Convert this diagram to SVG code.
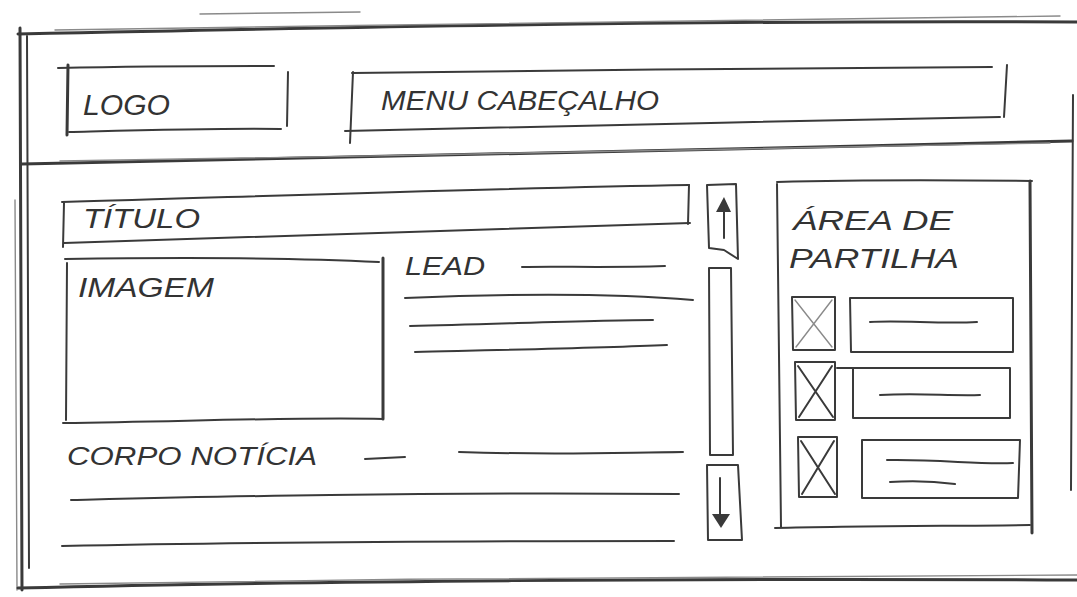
<svg xmlns="http://www.w3.org/2000/svg" width="1077" height="597" viewBox="0 0 1077 597">
<style>
.s{fill:none;stroke:#3a3a3a;stroke-width:2;stroke-linecap:round;stroke-linejoin:round}
.h{stroke-width:3}
.l{stroke:#8a8a8a;stroke-width:1.4}
.t{font-family:"Liberation Sans",Arial,sans-serif;fill:#333;font-style:italic}
</style>
<rect width="1077" height="597" fill="#fff"/>
<g id="frame" class="s">
<path class="h" d="M18 34 C300 28 700 20 1077 22"/>
<path class="l" d="M55 30 C400 25 800 18 1060 16"/>
<path class="l" d="M200 14 L360 12"/>
<path class="h" d="M20 28 L22 590"/>
<path d="M27 36 L29 568"/>
<path class="l" d="M15 200 L17 590"/>
<path class="h" d="M18 588 C300 581 700 578 1077 580"/>
<path class="l" d="M60 584 C400 578 800 576 1077 575"/>
<path d="M1073 95 L1071 490"/>
</g>
<g id="header-divider" class="s">
<path class="h" d="M22 164 C300 160 700 150 1072 141"/>
<path class="l" d="M60 161 C400 156 800 148 1050 143"/>
</g>
<g id="logo">
<g class="s">
<path d="M58 68 C150 66 220 66 274 66"/>
<path class="h" d="M68 65 L67 135"/>
<path d="M288 72 L287 126"/>
<path d="M69 132 C150 130 220 128 281 129"/>
</g>
<text class="t" x="83" y="115" font-size="30" textLength="87" lengthAdjust="spacingAndGlyphs">LOGO</text>
</g>
<g id="menu">
<g class="s">
<path d="M352 73 C550 70 800 68 992 67"/>
<path d="M353 72 L350 143"/>
<path d="M345 131 C500 127 800 121 1000 117"/>
<path d="M1007 65 L1004 117"/>
</g>
<text class="t" x="381" y="110" font-size="27" textLength="278" lengthAdjust="spacingAndGlyphs">MENU CABEÇALHO</text>
</g>
<g id="titulo">
<g class="s">
<path d="M62 202 C300 195 500 188 689 185"/>
<path d="M64 203 L63 247"/>
<path d="M64 243 C300 236 500 228 690 223"/>
<path d="M689 185 L688 224"/>
</g>
<text class="t" x="83" y="228" font-size="27" textLength="117" lengthAdjust="spacingAndGlyphs">TÍTULO</text>
</g>
<g id="imagem">
<g class="s">
<path d="M65 259 C200 257 300 258 379 262"/>
<path d="M67 263 L66 420"/>
<path class="h" d="M383 258 L383 419"/>
<path d="M63 423 C200 421 300 417 383 419"/>
</g>
<text class="t" x="78" y="297" font-size="27" textLength="136" lengthAdjust="spacingAndGlyphs">IMAGEM</text>
</g>
<g id="lead">
<text class="t" x="405" y="275" font-size="26" textLength="80" lengthAdjust="spacingAndGlyphs">LEAD</text>
<g class="s">
<path d="M522 267 C560 266 600 268 665 266"/>
<path d="M405 298 C500 294 600 292 693 300"/>
<path d="M410 326 C500 324 600 320 653 320"/>
<path d="M415 352 C500 350 600 348 667 345"/>
</g>
</g>
<g id="corpo">
<text class="t" x="67" y="465" font-size="25" textLength="250" lengthAdjust="spacingAndGlyphs">CORPO NOTÍCIA</text>
<g class="s">
<path d="M365 459 L405 457"/>
<path d="M459 452 C550 455 600 453 683 452"/>
<path d="M71 500 C200 497 400 492 679 494"/>
<path d="M62 546 C200 543 400 541 674 541"/>
</g>
</g>
<g id="scrollbar">
<g class="s">
<path d="M707 185 L736 184 L738 259 L724 250 L709 248 Z"/>
<path d="M724 238 L724 202"/>
<path d="M709 268 L731 268 L733 455 L710 455 Z"/>
<path d="M707 465 L738 465 L742 540 L708 540 Z"/>
<path d="M720 478 L720 518"/>
</g>
<path d="M716 212 L724 197 L731 212 Z" fill="#3a3a3a"/>
<path d="M712 514 L730 514 L721 528 Z" fill="#3a3a3a"/>
</g>
<g id="partilha">
<g class="s">
<path d="M777 182 C850 180 950 180 1032 181"/>
<path d="M777 184 L781 527"/>
<path class="h" d="M1030 181 L1032 533"/>
<path d="M775 528 C850 526 950 526 1030 525"/>
</g>
<text class="t" x="793" y="230" font-size="28" textLength="160" lengthAdjust="spacingAndGlyphs">ÁREA DE</text>
<text class="t" x="789" y="268" font-size="28" textLength="170" lengthAdjust="spacingAndGlyphs">PARTILHA</text>
</g>
<g id="share-1" class="s">
<path d="M792 297 L835 297 L835 350 L793 350 Z"/>
<path class="l" d="M795 300 L832 347 M832 300 L796 347"/>
<path d="M850 298 L1013 298 L1013 352 L851 352 Z"/>
<path d="M870 322 C900 320 940 324 977 322"/>
</g>
<g id="share-2" class="s">
<path d="M795 362 L835 362 L835 420 L796 420 Z"/>
<path d="M798 366 L833 417 M832 366 L799 417"/>
<path d="M837 368 L1010 368 L1010 418 L853 418 L853 368"/>
<path d="M880 395 C920 393 950 396 980 395"/>
</g>
<g id="share-3" class="s">
<path d="M798 437 L837 437 L837 497 L799 497 Z"/>
<path d="M801 441 L835 494 M834 441 L802 494"/>
<path d="M862 440 L1020 440 L1018 498 L862 498 Z"/>
<path d="M887 460 C940 459 980 465 1013 463"/>
<path d="M890 482 C920 480 940 482 955 484"/>
</g>
</svg>
